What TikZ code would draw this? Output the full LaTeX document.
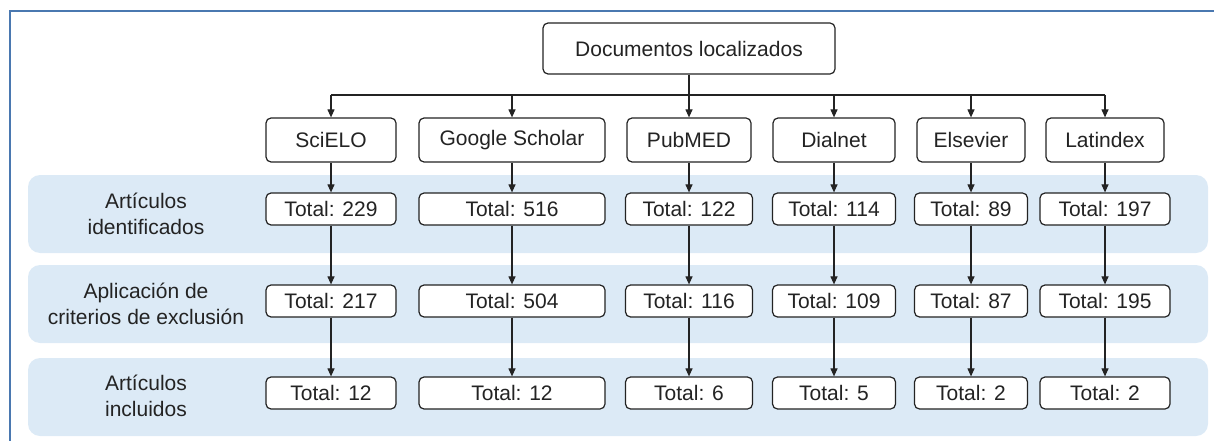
\documentclass[tikz,border=0pt]{standalone}
\usepackage{fontspec}
\setmainfont{Liberation Sans}
\usetikzlibrary{arrows.meta,calc}
\definecolor{framec}{HTML}{4A78B0}
\definecolor{bandc}{HTML}{DCEAF6}
\definecolor{inkc}{HTML}{232323}
\begin{document}
\begin{tikzpicture}[x=1pt,y=-1pt,
  box/.style={draw=inkc, line width=1.2pt, rounded corners=5pt, fill=white, text=inkc, inner sep=0pt, font=\fontsize{21}{26}\selectfont},
  src/.style={box, minimum height=44pt},
  tot/.style={box, minimum height=32pt},
  band/.style={fill=bandc, rounded corners=12pt},
  lab/.style={text=inkc, align=center, inner sep=0pt, font=\fontsize{21}{26}\selectfont},
  arr/.style={draw=inkc, line width=1.1pt, -{Triangle[width=7pt,length=8pt]}},
  ln/.style={draw=inkc, line width=1.1pt}]
\useasboundingbox (0,0) rectangle (1214,441);
% bands
\fill[band] (28,175) rectangle (1208,253);
\fill[band] (28,265) rectangle (1208,343);
\fill[band] (28,358) rectangle (1208,436);
% frame
\draw[framec, line width=1.5pt] (1214,11) -- (10,11) -- (10,441);
% labels
\node[lab] (l1) at (146,214) {Artículos\\identificados};
\node[lab] (l2) at (146,304) {Aplicación de\\criterios de exclusión};
\node[lab] (l3) at (146,396) {Artículos\\incluidos};
% top
\node[box, minimum width=292pt, minimum height=51pt] (doc) at (689,48.5) {Documentos localizados};
% sources
\node[src, minimum width=130pt] (s1) at (331,140) {SciELO};
\node[src, minimum width=186pt] (s2) at (512,140) {Google Scholar};
\node[src, minimum width=124pt] (s3) at (689,140) {PubMED};
\node[src, minimum width=122pt] (s4) at (834,140) {Dialnet};
\node[src, minimum width=108pt] (s5) at (971,140) {Elsevier};
\node[src, minimum width=118pt] (s6) at (1105,140) {Latindex};
% row a
\node[tot, minimum width=130pt] (a1) at (331,209) {Total: 229};
\node[tot, minimum width=186pt] (a2) at (512,209) {Total: 516};
\node[tot, minimum width=127pt] (a3) at (689,209) {Total: 122};
\node[tot, minimum width=123pt] (a4) at (834,209) {Total: 114};
\node[tot, minimum width=113pt] (a5) at (971,209) {Total: 89};
\node[tot, minimum width=130pt] (a6) at (1105,209) {Total: 197};
% row b
\node[tot, minimum width=130pt] (b1) at (331,301) {Total: 217};
\node[tot, minimum width=186pt] (b2) at (512,301) {Total: 504};
\node[tot, minimum width=127pt] (b3) at (689,301) {Total: 116};
\node[tot, minimum width=123pt] (b4) at (834,301) {Total: 109};
\node[tot, minimum width=113pt] (b5) at (971,301) {Total: 87};
\node[tot, minimum width=130pt] (b6) at (1105,301) {Total: 195};
% row c
\node[tot, minimum width=130pt] (c1) at (331,393) {Total: 12};
\node[tot, minimum width=186pt] (c2) at (512,393) {Total: 12};
\node[tot, minimum width=127pt] (c3) at (689,393) {Total: 6};
\node[tot, minimum width=123pt] (c4) at (834,393) {Total: 5};
\node[tot, minimum width=113pt] (c5) at (971,393) {Total: 2};
\node[tot, minimum width=130pt] (c6) at (1105,393) {Total: 2};
% connectors
\coordinate (hl) at (0,95);
\draw[ln] (doc.south) -- (doc.south |- hl);
\draw[ln] (s1.north |- hl) -- (s6.north |- hl);
\foreach \i in {1,...,6}{
  \draw[arr] (s\i.north |- hl) -- (s\i.north);
  \draw[arr] (s\i.south) -- (a\i.north);
  \draw[arr] (a\i.south) -- (b\i.north);
  \draw[arr] (b\i.south) -- (c\i.north);
}
\end{tikzpicture}
\end{document}
